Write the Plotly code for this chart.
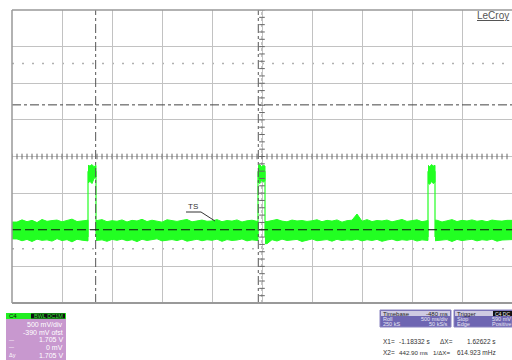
import numpy as np
import plotly.graph_objects as go

W, H = 512, 360
t_start, t_end = -2.02, 2.98          # visible time window, s (500 ms/div)
v_low, v_high = -1.0, 3.0             # visible voltage window, V (500 mV/div)

pulse_start = [-1.26, 0.44, 2.14]     # s
pulse_end = [-1.18, 0.51, 2.21]       # s
pulse_hi = [[0.88, 0.87, 0.89, 0.86, 0.88], [0.87, 0.89, 0.86, 0.88, 0.87], [0.88, 0.86, 0.89, 0.87, 0.88]]
pulse_lo = [[0.64, 0.66, 0.63, 0.70, 0.72], [0.66, 0.63, 0.68, 0.65, 0.67], [0.64, 0.62, 0.66, 0.63, 0.65]]

# baseline noise envelope (mV), one value every 50 ms from t_start
base_hi_mv = [120, 105, 135, 110, 128, 98, 140, 115, 125, 132,
              108, 122, 145, 112, 118, 130, 102, 126, 138, 110,
              124, 116, 134, 106, 128, 120, 142, 112, 130, 118,
              104, 136, 122, 114, 128, 140, 108, 124, 132, 116,
              120, 138, 110, 126, 118, 134, 106, 122, 130, 115,
              128, 112, 125, 140, 118, 108, 132, 120, 126, 114,
              122, 136, 110, 128, 118, 134, 104, 124, 130, 215,
              116, 138, 112, 126, 120, 132, 108, 128, 140, 114,
              122, 135, 110, 126, 118, 130, 106, 124, 138, 112,
              128, 120, 134, 116, 126, 110, 132, 122, 118, 128, 124]
base_lo_mv = [-140, -125, -150, -132, -160, -128, -145, -138, -155, -122,
              -148, -135, -165, -130, -142, -152, -126, -146, -138, -158,
              -132, -144, -128, -150, -136, -162, -130, -146, -140, -124,
              -152, -138, -134, -148, -128, -156, -142, -130, -150, -136,
              -144, -128, -158, -134, -146, -140, -126, -152, -138, -148,
              -130, -190, -136, -154, -128, -146, -140, -132, -160, -138,
              -126, -150, -142, -134, -156, -130, -148, -138, -144, -128,
              -152, -136, -146, -132, -158, -140, -128, -150, -136, -144,
              -130, -154, -138, -146, -126, -150, -142, -134, -160, -132,
              -148, -138, -130, -152, -136, -144, -128, -156, -140, -134, -146]

x1_cursor, x2_cursor = -1.18332, 0.44290   # s
y1_cursor, y2_cursor = 1.705, 0.0          # V
dotted_levels = [2.268, -0.26]             # V
trigger_time = 0.0                         # s

# ---------------- helpers ----------------
def PX(x):
    return x / W

def PY(y):
    return 1 - y / H

GREEN = "#22ff22"
fig = go.Figure()

n = min(len(base_hi_mv), len(base_lo_mv))
t_env = np.linspace(t_start, t_start + 0.05 * (n - 1), n)
hi = np.array(base_hi_mv[:n]) / 1000.0
lo = np.array(base_lo_mv[:n]) / 1000.0

seg_bounds = [(t_start, pulse_start[0])]
for i in range(len(pulse_start) - 1):
    seg_bounds.append((pulse_end[i], pulse_start[i + 1]))
seg_bounds.append((pulse_end[-1], t_end))

for a, b in seg_bounds:
    idx = np.where((t_env > a) & (t_env < b))[0]
    xs = [a] + list(t_env[idx]) + [b]
    hs = [hi[idx[0]]] + list(hi[idx]) + [hi[idx[-1]]]
    ls = [lo[idx[0]]] + list(lo[idx]) + [lo[idx[-1]]]
    fig.add_trace(go.Scatter(x=xs + xs[::-1], y=hs + ls[::-1], fill="toself",
                             fillcolor=GREEN, line=dict(color=GREEN, width=1),
                             mode="lines", hoverinfo="skip", showlegend=False))

for k in range(len(pulse_start)):
    a, b = pulse_start[k], pulse_end[k]
    m = len(pulse_hi[k])
    xs = list(np.linspace(a, b, m))
    fig.add_trace(go.Scatter(x=xs + xs[::-1], y=pulse_hi[k] + pulse_lo[k][::-1], fill="toself",
                             fillcolor=GREEN, line=dict(color=GREEN, width=1),
                             mode="lines", hoverinfo="skip", showlegend=False))
    for e in (a, b):
        fig.add_trace(go.Scatter(x=[e, e], y=[-0.1, 0.8], mode="lines",
                                 line=dict(color=GREEN, width=1.2),
                                 hoverinfo="skip", showlegend=False))

# centre graticule ticks
t_mid = (t_start + t_end) / 2
v_mid = (v_low + v_high) / 2
tx = np.arange(t_start, t_end + 1e-9, 0.05)
fig.add_trace(go.Scatter(x=tx, y=[v_mid] * len(tx), mode="markers",
                         marker=dict(symbol="line-ns", size=4, line=dict(color="#666", width=1)),
                         hoverinfo="skip", showlegend=False))
vy = np.arange(v_low, v_high + 1e-9, 0.1)
fig.add_trace(go.Scatter(x=[t_mid] * len(vy), y=vy, mode="markers",
                         marker=dict(symbol="line-ew", size=4, line=dict(color="#666", width=1)),
                         hoverinfo="skip", showlegend=False))

shapes = []
# centre lines
shapes.append(dict(type="line", xref="x", yref="y", x0=t_start, x1=t_end, y0=v_mid, y1=v_mid,
                   line=dict(color="#7a7a7a", width=1), layer="below"))
shapes.append(dict(type="line", xref="x", yref="y", x0=t_mid, x1=t_mid, y0=v_low, y1=v_high,
                   line=dict(color="#8a8a8a", width=1, dash="dot"), layer="below"))
# dotted levels
for lv in dotted_levels:
    shapes.append(dict(type="line", xref="x", yref="y", x0=t_start, x1=t_end, y0=lv, y1=lv,
                       line=dict(color="#b0b0b0", width=1.5, dash="2px,8px"), layer="below"))
# cursors
for xc in (x1_cursor, x2_cursor):
    shapes.append(dict(type="line", xref="x", yref="y", x0=xc, x1=xc, y0=v_low, y1=v_high,
                       line=dict(color="#555", width=1, dash="dashdot"), layer="above"))
shapes.append(dict(type="line", xref="x", yref="y", x0=t_start, x1=t_end, y0=y1_cursor, y1=y1_cursor,
                   line=dict(color="#444", width=1, dash="dashdot"), layer="above"))
shapes.append(dict(type="line", xref="x", yref="y", x0=t_start, x1=t_end, y0=y2_cursor, y1=y2_cursor,
                   line=dict(color="#111", width=1, dash="9px,4px"), layer="above"))
# borders
shapes.append(dict(type="line", xref="paper", yref="paper", x0=PX(12), x1=PX(12), y0=PY(303), y1=PY(10),
                   line=dict(color="#999", width=1.5)))
shapes.append(dict(type="line", xref="paper", yref="paper", x0=PX(12), x1=1, y0=PY(10), y1=PY(10),
                   line=dict(color="#999", width=1.5)))
shapes.append(dict(type="line", xref="paper", yref="paper", x0=PX(12), x1=1, y0=PY(303), y1=PY(303),
                   line=dict(color="#999", width=2)))
# TS label leader
shapes.append(dict(type="line", xref="paper", yref="paper", x0=PX(186), x1=PX(201), y0=PY(212), y1=PY(212),
                   line=dict(color="#333", width=1)))
shapes.append(dict(type="line", xref="paper", yref="paper", x0=PX(201), x1=PX(215), y0=PY(212), y1=PY(221),
                   line=dict(color="#333", width=1)))

# channel box (bottom left)
shapes.append(dict(type="rect", xref="paper", yref="paper", x0=PX(6), x1=PX(66), y0=PY(360), y1=PY(313),
                   fillcolor="#c898cf", line=dict(width=0), layer="below"))
shapes.append(dict(type="rect", xref="paper", yref="paper", x0=PX(6), x1=PX(66), y0=PY(319), y1=PY(313),
                   fillcolor="#22ee22", line=dict(width=0), layer="below"))
shapes.append(dict(type="rect", xref="paper", yref="paper", x0=PX(31), x1=PX(65), y0=PY(318.5), y1=PY(313.5),
                   fillcolor="#111", line=dict(width=0), layer="below"))
# timebase / trigger boxes
for bx0, bx1 in ((380, 451), (454, 512)):
    shapes.append(dict(type="rect", xref="paper", yref="paper", x0=PX(bx0), x1=PX(bx1), y0=PY(327), y1=PY(310),
                       fillcolor="#6e66b2", line=dict(color="#8a84c0", width=1), layer="below"))
    shapes.append(dict(type="rect", xref="paper", yref="paper", x0=PX(bx0 + 1), x1=PX(bx1 - 1), y0=PY(316), y1=PY(311),
                       fillcolor="#cfcbe2", line=dict(width=0), layer="below"))
shapes.append(dict(type="rect", xref="paper", yref="paper", x0=PX(493), x1=PX(512), y0=PY(316), y1=PY(311),
                   fillcolor="#111", line=dict(width=0), layer="below"))

ann = []
def txt(x, y, s, size=6, color="#fff", anchor="left"):
    ann.append(dict(x=PX(x), y=PY(y), xref="paper", yref="paper", text=s, showarrow=False,
                    xanchor=anchor, yanchor="middle", borderpad=0,
                    font=dict(family="Liberation Sans, Arial", size=size, color=color)))

txt(510, 16, "<u>LeCroy</u>", size=10, color="#555", anchor="right")
txt(193, 206, "TS", size=8, color="#333", anchor="center")
# channel box text
txt(8, 316, "C4", size=6, color="#111")
txt(64, 316, "BWL DC1M", size=5.5, color="#33ee33", anchor="right")
txt(64, 324.5, "500 mV/div", size=7, color="#ffffff", anchor="right")
txt(64, 332, "-390 mV ofst", size=7, color="#ffffff", anchor="right")
txt(64, 339.5, "1.705 V", size=7, color="#ffffff", anchor="right")
txt(64, 347, "0 mV", size=7, color="#ffffff", anchor="right")
txt(64, 355, "1.705 V", size=7, color="#ffffff", anchor="right")
txt(8, 339.5, "—", size=5)
txt(8, 347, "—", size=5)
txt(8, 355, "Δy", size=5.5)
# timebase box text
txt(382, 313.5, "Timebase", size=6, color="#222")
txt(449, 313.5, "-480 ms", size=6, color="#222", anchor="right")
txt(382, 318.8, "Roll", size=5.5, color="#e8e6f4")
txt(449, 318.8, "500 ms/div", size=5.5, color="#e8e6f4", anchor="right")
txt(382, 324.2, "250 kS", size=5.5, color="#e8e6f4")
txt(449, 324.2, "50 kS/s", size=5.5, color="#e8e6f4", anchor="right")
# trigger box text
txt(456, 313.5, "Trigger", size=6, color="#222")
txt(494, 313.5, "C4 DC", size=5, color="#eee")
txt(456, 318.8, "Stop", size=5.5, color="#e8e6f4")
txt(512, 318.8, "590 mV", size=5.5, color="#e8e6f4", anchor="right")
txt(456, 324.2, "Edge", size=5.5, color="#e8e6f4")
txt(512, 324.2, "Positive", size=5.5, color="#e8e6f4", anchor="right")
# cursor readout
txt(382, 341, "X1=", size=6.5, color="#333")
txt(431, 341, "-1.18332 s", size=6.5, color="#333", anchor="right")
txt(439, 341, "ΔX=", size=6.5, color="#333")
txt(497, 341, "1.62622 s", size=6.5, color="#333", anchor="right")
txt(382, 352.5, "X2=", size=6.5, color="#333")
txt(429, 352.5, "442.90 ms", size=6.2, color="#333", anchor="right")
txt(432, 352.5, "1/ΔX=", size=6.2, color="#333")
txt(497, 352.5, "614.923 mHz", size=6.5, color="#333", anchor="right")

# trigger marker and channel marker
fig.add_trace(go.Scatter(x=[trigger_time], y=[v_low - 0.04], mode="markers", cliponaxis=False,
                         marker=dict(symbol="triangle-up", size=6, color="#22dd22"),
                         hoverinfo="skip", showlegend=False))
fig.add_trace(go.Scatter(x=[t_start - 0.06], y=[0.0], mode="markers", cliponaxis=False,
                         marker=dict(symbol="triangle-right", size=5, color="#22dd22"),
                         hoverinfo="skip", showlegend=False))

fig.update_layout(
    width=W, height=H, margin=dict(l=0, r=0, t=0, b=0),
    paper_bgcolor="white", plot_bgcolor="white",
    xaxis=dict(domain=[12 / W, 1], range=[t_start, t_end], tick0=t_start, dtick=0.5,
               showgrid=True, gridcolor="#c2c2c2", gridwidth=1, zeroline=False,
               showticklabels=False, ticks="", showline=False, fixedrange=True),
    yaxis=dict(domain=[1 - 303 / H, 1 - 10 / H], range=[v_low, v_high], tick0=v_low, dtick=0.5,
               showgrid=True, gridcolor="#c2c2c2", gridwidth=1, zeroline=False,
               showticklabels=False, ticks="", showline=False, fixedrange=True),
    shapes=shapes, annotations=ann, showlegend=False,
)
fig.write_html("out.html", config={"displayModeBar": False},
               post_script="document.body.style.margin='0';document.body.style.overflow='hidden';")
